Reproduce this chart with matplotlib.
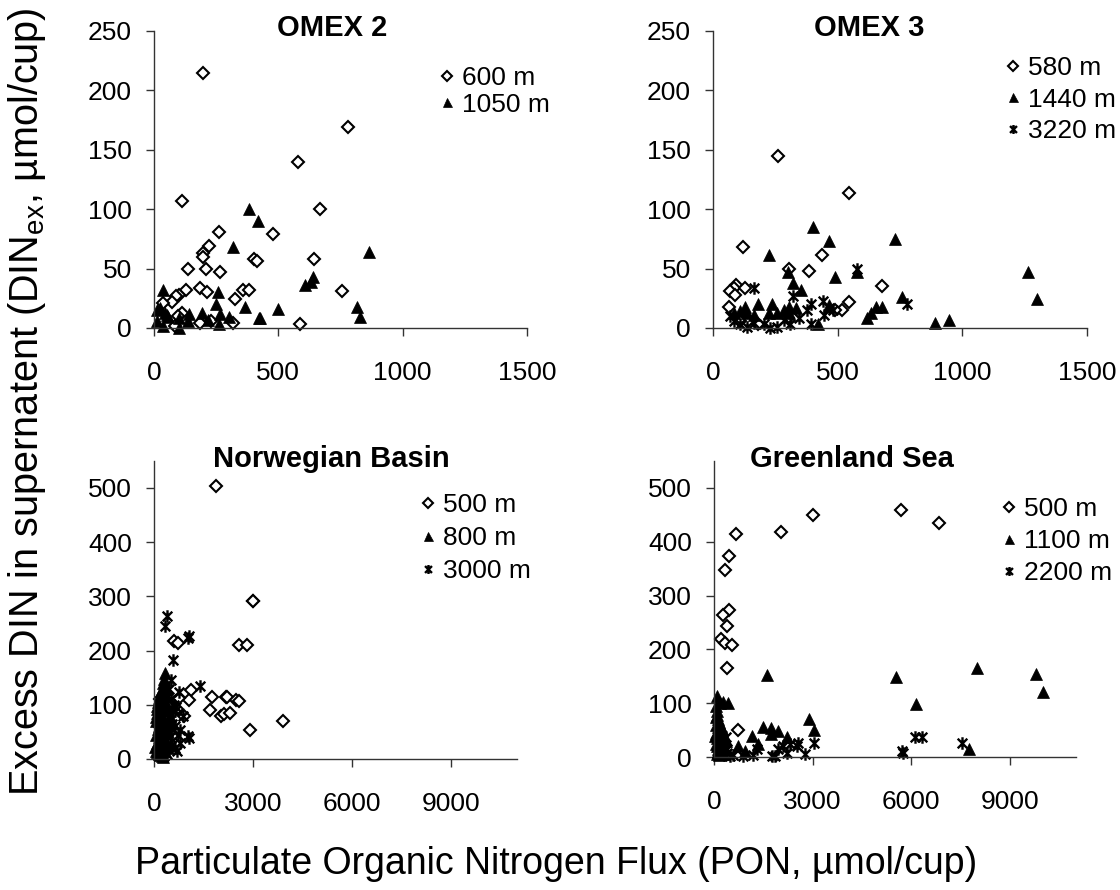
import numpy as np
import matplotlib.pyplot as plt
from matplotlib.path import Path
from matplotlib.lines import Line2D

plt.rcParams['font.family'] = ['Liberation Sans', 'DejaVu Sans']
plt.rcParams['mathtext.fontset'] = 'custom'
plt.rcParams['mathtext.rm'] = 'Liberation Sans'

# ---- OMEX 2 ----
omex2_600_x = [199, 780, 581, 112, 669, 263, 477, 222, 199, 199, 136, 208, 266, 403, 414, 645,
               183, 212, 128, 357, 382, 324, 755, 101, 89, 74, 38, 112, 98, 85, 185, 228, 317, 589]
omex2_600_y = [215, 169, 140, 107, 100, 81, 79, 69, 63, 60, 50, 50, 47, 58, 56, 58,
               34, 30, 32, 32, 32, 24, 31, 28, 27, 22, 21, 13, 10, 2, 4, 6, 4, 3]
omex2_1050_x = [382, 418, 317, 866, 638, 633, 609, 38, 257, 251, 368, 500, 815, 829, 421, 427,
                142, 192, 266, 300, 262, 13, 24, 44, 58, 11, 38, 102, 138, 219, 102, 54]
omex2_1050_y = [100, 90, 68, 64, 43, 39, 36, 32, 30, 20, 18, 16, 18, 9, 8, 8,
                12, 13, 12, 9, 3, 15, 17, 13, 9, 6, 2, 0, 6, 7, 8, 11]

# ---- OMEX 3 ----
omex3_580_x = [261, 547, 122, 436, 305, 385, 677, 547, 518, 491, 94, 83, 67, 87, 130, 64, 110, 180, 300]
omex3_580_y = [145, 114, 68, 61, 50, 48, 35, 22, 15, 15, 36, 34, 31, 28, 34, 18, 6, 3, 8]
omex3_1440_x = [401, 466, 728, 1262, 1298, 225, 301, 578, 320, 353, 488, 756, 678, 654, 633, 617,
                890, 946, 420, 181, 130, 237, 223, 304, 334, 464, 83, 110, 136, 163, 284, 304, 257]
omex3_1440_y = [85, 73, 75, 47, 24, 61, 47, 47, 38, 32, 43, 26, 18, 18, 13, 8,
                4, 7, 3, 20, 18, 20, 13, 18, 17, 19, 13, 14, 13, 11, 15, 13, 13]
omex3_3220_x = [163, 320, 391, 441, 779, 464, 481, 447, 578, 377, 391, 257, 230, 203, 310,
                83, 110, 136, 163, 70, 344, 284]
omex3_3220_y = [34, 27, 20, 23, 20, 17, 15, 11, 50, 15, 3, 1, 0, 3, 3,
                6, 3, 1, 4, 10, 8, 7]

# ---- Norwegian Basin ----
norw_500_x = [1883, 3001, 3001, 2578, 2810, 604, 715, 1108, 1057, 1762, 2175, 2215, 2497, 2578,
              1692, 2044, 2125, 2316, 2920, 3907, 765, 685, 906, 150, 220, 300, 400, 500, 250, 350, 180]
norw_500_y = [503, 292, 292, 211, 211, 217, 214, 128, 108, 114, 114, 114, 108, 107,
              91, 80, 83, 84, 54, 71, 113, 92, 80, 60, 85, 40, 100, 50, 20, 70, 110]
norw_800_x = [330, 300, 280, 250, 200, 150, 120, 100, 90, 80, 60, 50, 220, 260, 310, 350, 400, 450,
              500, 180, 140, 110, 230, 270, 320, 380, 420, 150, 200, 250, 90, 130, 170, 210, 300,
              350, 60, 100, 140, 190, 240, 280, 330, 420, 520, 70, 40, 160, 380, 460]
norw_800_y = [159, 148, 140, 130, 120, 112, 105, 98, 92, 85, 78, 70, 125, 118, 110, 102, 95, 88,
              80, 65, 60, 55, 72, 68, 62, 58, 50, 40, 45, 38, 30, 28, 25, 20, 35,
              30, 15, 12, 10, 8, 5, 3, 15, 20, 25, 45, 22, 90, 130, 60]
norw_3000_x = [383, 332, 1037, 1067, 564, 1390, 503, 765, 1017, 1067, 705, 634, 886, 785,
               450, 380, 520, 600, 680, 300, 250, 200, 420, 560, 640, 720, 350, 480, 150, 270,
               550, 650, 780, 400, 300, 220]
norw_3000_y = [263, 245, 224, 226, 182, 134, 145, 123, 42, 39, 14, 88, 79, 54,
               130, 115, 110, 100, 95, 90, 75, 60, 70, 65, 60, 45, 50, 40, 35, 30,
               25, 20, 30, 10, 5, 15]

# ---- Greenland Sea ----
green_500_x = [5699, 6855, 3001, 2048, 669, 446, 324, 446, 274, 385, 213, 324, 548, 385, 740, 120, 200]
green_500_y = [459, 435, 449, 419, 415, 374, 348, 273, 263, 243, 219, 212, 209, 165, 51, 30, 15]
green_1100_x = [1602, 5536, 8011, 9785, 10018, 6145, 7747, 2880, 3052, 1501, 1724, 1724, 1957, 2231,
                1166, 1349, 720, 943, 81, 183, 284, 436, 50, 80, 100, 120, 150, 180, 200, 230,
                260, 300, 330, 380, 60, 90, 130, 170, 210, 250, 100, 140, 190, 50, 70, 110, 150,
                200, 120, 160, 80, 60, 40]
green_1100_y = [152, 149, 165, 155, 121, 99, 14, 71, 51, 55, 54, 43, 48, 38,
                40, 25, 20, 12, 113, 100, 103, 100, 95, 85, 78, 70, 65, 60, 55, 50,
                45, 40, 35, 30, 25, 20, 15, 10, 8, 5, 35, 28, 18, 60, 45, 55, 38,
                25, 12, 3, 5, 75, 40]
green_2200_x = [5709, 5739, 6114, 6317, 7534, 3042, 2565, 2515, 2312, 2109, 2210, 2768, 1754, 1855,
                1298, 1197, 892, 588, 365, 385, 1957, 100, 200, 300, 400, 500, 250, 150, 350]
green_2200_y = [11, 7, 38, 38, 27, 27, 27, 20, 24, 20, 7, 6, 2, 1,
                14, 4, 2, 4, 38, 14, 14, 5, 10, 3, 8, 2, 20, 30, 15]

# asterisk marker: x plus a vertical bar
star = Path([(-1, -1), (1, 1), (-1, 1), (1, -1), (0, -1.3), (0, 1.3)],
            [Path.MOVETO, Path.LINETO, Path.MOVETO, Path.LINETO, Path.MOVETO, Path.LINETO])

styles = {
    'dia': dict(marker='D', markersize=6.5, markerfacecolor='white', markeredgecolor='black', markeredgewidth=1.5),
    'tri': dict(marker='^', markersize=9, markerfacecolor='black', markeredgecolor='black', markeredgewidth=0.5),
    'star': dict(marker=star, markersize=9, markerfacecolor='none', markeredgecolor='black', markeredgewidth=1.7),
}

panels = [
    dict(rect=[0.1375, 0.6315, 0.333, 0.3337], title='OMEX 2', tx=332, ty=28,
         xlim=(0, 1500), xticks=[0, 500, 1000, 1500], ylim=(0, 250), yticks=[0, 50, 100, 150, 200, 250],
         series=[(omex2_600_x, omex2_600_y, 'dia', '600 m'), (omex2_1050_x, omex2_1050_y, 'tri', '1050 m')],
         leg=(440, 66), lsp=0.1),
    dict(rect=[0.6366, 0.6315, 0.334, 0.3337], title='OMEX 3', tx=869, ty=28,
         xlim=(0, 1500), xticks=[0, 500, 1000, 1500], ylim=(0, 250), yticks=[0, 50, 100, 150, 200, 250],
         series=[(omex3_580_x, omex3_580_y, 'dia', '580 m'), (omex3_1440_x, omex3_1440_y, 'tri', '1440 m'),
                 (omex3_3220_x, omex3_3220_y, 'star', '3220 m')],
         leg=(1006, 56), lsp=0.29),
    dict(rect=[0.1375, 0.1472, 0.324, 0.335], title='Norwegian Basin', tx=331, ty=459,
         xlim=(0, 11000), xticks=[0, 3000, 6000, 9000], ylim=(0, 550), yticks=[0, 100, 200, 300, 400, 500],
         series=[(norw_500_x, norw_500_y, 'dia', '500 m'), (norw_800_x, norw_800_y, 'tri', '800 m'),
                 (norw_3000_x, norw_3000_y, 'star', '3000 m')],
         leg=(421, 493), lsp=0.34),
    dict(rect=[0.6375, 0.1494, 0.323, 0.3326], title='Greenland Sea', tx=852, ty=459,
         xlim=(0, 11000), xticks=[0, 3000, 6000, 9000], ylim=(0, 550), yticks=[0, 100, 200, 300, 400, 500],
         series=[(green_500_x, green_500_y, 'dia', '500 m'), (green_1100_x, green_1100_y, 'tri', '1100 m'),
                 (green_2200_x, green_2200_y, 'star', '2200 m')],
         leg=(1002, 497), lsp=0.31),
]

W, H = 1120, 890
fig = plt.figure(figsize=(W / 100, H / 100), dpi=100)

for p in panels:
    ax = fig.add_axes(p['rect'])
    handles = []
    labels = []
    for xs, ys, st, lab in p['series']:
        ax.plot(xs, ys, linestyle='none', clip_on=False, **styles[st])
        small = dict(styles[st])
        small['markersize'] = styles[st]['markersize'] * 0.72
        handles.append(Line2D([], [], linestyle='none', **small))
        labels.append(lab)
    ax.set_xlim(*p['xlim'])
    ax.set_ylim(*p['ylim'])
    ax.set_xticks(p['xticks'])
    ax.set_yticks(p['yticks'])
    ax.spines['top'].set_visible(False)
    ax.spines['right'].set_visible(False)
    for s in ['left', 'bottom']:
        ax.spines[s].set_color('#333333')
        ax.spines[s].set_linewidth(1.0)
    ax.tick_params(direction='out', length=6, width=1.0, color='#333333', labelsize=19)
    ax.tick_params(axis='y', pad=10)
    ax.tick_params(axis='x', pad=18)
    fig.text(p['tx'] / W, 1 - p['ty'] / H, p['title'], ha='center', va='center',
             fontsize=21, fontweight='bold')
    lx, ly = p['leg']
    ax.legend(handles, labels, loc='upper left', bbox_to_anchor=(lx / W, 1 - ly / H),
              bbox_transform=fig.transFigure, frameon=False, borderpad=0, borderaxespad=0,
              handlelength=0.55, handletextpad=0.3, labelspacing=p['lsp'], fontsize=19)

fig.text(27 / W, 1 - 402 / H, 'Excess DIN in supernatent (DIN$_{\\mathrm{ex}}$, µmol/cup)',
         rotation=90, ha='center', va='center', fontsize=28.5)
fig.text(556 / W, 1 - 864 / H, 'Particulate Organic Nitrogen Flux (PON, µmol/cup)',
         ha='center', va='center', fontsize=27)

fig.savefig('out.png', dpi=100)
